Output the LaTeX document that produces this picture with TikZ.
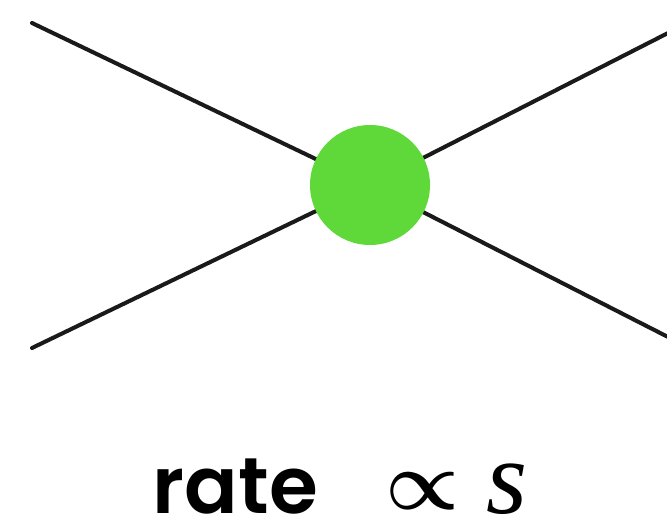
\RequirePackage{fix-cm}
\documentclass[tikz,border=0pt]{standalone}
\usepackage{fontspec}
\newfontfamily\ratefont{Poppins SemiBold}
\newfontfamily\propfont{Liberation Serif}
\usetikzlibrary{positioning}
\definecolor{vgreen}{HTML}{5FD93A}
\definecolor{ink}{HTML}{1A1A1A}

\begin{document}
\begin{tikzpicture}[line cap=round]
  \useasboundingbox (0,0) rectangle (13.34,10.42);
  \coordinate (vtx) at (7.4,6.72);
  \coordinate (inA) at (0.64,9.96);  \coordinate (inB) at (0.64,3.46);
  \coordinate (outA) at (13.4,3.66); \coordinate (outB) at (13.4,9.78);
  \draw[ink, line width=2.3pt] (inA) -- (vtx) -- (outA) (inB) -- (vtx) -- (outB);
  \node[fill=vgreen, circle, minimum size=2.4cm, inner sep=0pt] (blob) at (vtx) {};
  \node[anchor=base west, inner sep=0pt, font=\ratefont\fontsize{45}{50}\selectfont] (rate) at (3.05,0.16) {rate};
  \node[anchor=base west, inner sep=0pt, font=\fontsize{47}{50}\selectfont\boldmath] (prop) at (7.7,0.24) {$\propto$};
  \node[anchor=base west, inner sep=0pt, font=\propfont\itshape\fontsize{60}{64}\selectfont] (svar) at (9.72,0.16) {s};
\end{tikzpicture}
\end{document}
